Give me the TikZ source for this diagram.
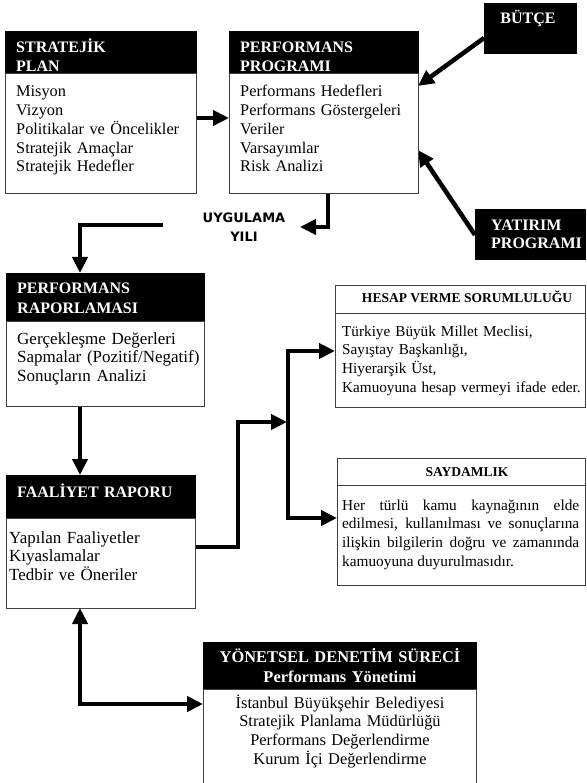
\documentclass[tikz,border=0pt]{standalone}
\usepackage{fontspec}
\setmainfont{Liberation Serif}
\newfontfamily\uygfont{DejaVu Sans}
\usetikzlibrary{arrows.meta}
\pgfdeclarelayer{nodelayer}
\pgfdeclarelayer{edgelayer}
\pgfsetlayers{edgelayer,nodelayer,main}
\tikzstyle{black box}=[fill=black, draw=black, shape=rectangle, anchor=north west, inner sep=0pt, outer sep=0pt]
\tikzstyle{white box}=[fill=white, draw=black!75, line width=0.9pt, shape=rectangle, anchor=north west, inner sep=0pt, outer sep=0pt]
\tikzstyle{head text}=[text=white, font=\bfseries\fontsize{16}{19}\selectfont, anchor=base west, inner sep=0pt, align=left, text width=250pt]
\tikzstyle{list text}=[text=black, font=\fontsize{16.3}{18.75}\selectfont, anchor=base west, inner sep=0pt, align=left, text width=250pt]
\tikzstyle{small head}=[text=black, font=\bfseries\fontsize{13.5}{16}\selectfont, anchor=base, inner sep=0pt]
\tikzstyle{none}=[fill=none, draw=none, shape=coordinate]
\tikzstyle{thick arrow}=[draw=black, line width=4.5pt, -{Triangle[length=16pt, width=15pt]}]
\tikzstyle{double arrow}=[draw=black, line width=4.5pt, {Triangle[length=16pt, width=15pt]}-{Triangle[length=16pt, width=15pt]}]

\begin{document}
\begin{tikzpicture}[x=1pt, y=-1pt]
	\useasboundingbox (0, 0) rectangle (586, 783);
	\begin{pgfonlayer}{nodelayer}
		% stratejik plan
		\node [style=black box, minimum width=191pt, minimum height=42pt] (0) at (5, 31) {};
		\node [style=white box, minimum width=191pt, minimum height=120pt] (1) at (5, 73) {};
		\node [style=head text] (2) at (16, 53) {STRATEJİK\\PLAN};
		\node [style=list text] (3) at (16, 97) {Misyon\\Vizyon\\Politikalar ve Öncelikler\\Stratejik Amaçlar\\Stratejik Hedefler};
		% performans programi
		\node [style=black box, minimum width=189pt, minimum height=42pt] (4) at (229, 31) {};
		\node [style=white box, minimum width=189pt, minimum height=120pt] (5) at (229, 73) {};
		\node [style=head text] (6) at (240, 53) {PERFORMANS\\PROGRAMI};
		\node [style=list text] (7) at (240, 97) {Performans Hedefleri\\Performans Göstergeleri\\Veriler\\Varsayımlar\\Risk Analizi};
		% butce, yatirim
		\node [style=black box, minimum width=92pt, minimum height=50pt] (8) at (484, 3) {};
		\node [style=head text, anchor=base, text width=80pt, align=center] (9) at (528, 23.5) {BÜTÇE};
		\node [style=black box, minimum width=110pt, minimum height=50pt] (10) at (475, 209) {};
		\node [style=head text, font=\bfseries\fontsize{16}{18}\selectfont] (11) at (491, 230.5) {YATIRIM\\PROGRAMI};
		\node [style=head text, text=black, font=\uygfont\bfseries\fontsize{13}{19}\selectfont, anchor=base, text width=90pt, align=center] (12) at (244, 223) {UYGULAMA\\YILI};
		% performans raporlamasi
		\node [style=black box, minimum width=198pt, minimum height=48pt] (13) at (6, 273) {};
		\node [style=white box, minimum width=198pt, minimum height=85pt] (14) at (6, 321) {};
		\node [style=head text, font=\bfseries\fontsize{16}{20}\selectfont] (15) at (17, 293.5) {PERFORMANS\\RAPORLAMASI};
		\node [style=list text, font=\fontsize{17}{18.6}\selectfont] (16) at (17, 344) {Gerçekleşme Değerleri\\Sapmalar (Pozitif/Negatif)\\Sonuçların Analizi};
		% faaliyet raporu
		\node [style=black box, minimum width=189pt, minimum height=43pt] (17) at (6, 475) {};
		\node [style=white box, minimum width=189pt, minimum height=90pt] (18) at (6, 518) {};
		\node [style=head text] (19) at (17, 497) {FAALİYET RAPORU};
		\node [style=list text, font=\fontsize{17}{18.6}\selectfont] (20) at (9, 543) {Yapılan Faaliyetler\\Kıyaslamalar\\Tedbir ve Öneriler};
		% hesap verme
		\node [style=white box, minimum width=250pt, minimum height=28pt] (21) at (335, 285) {};
		\node [style=white box, minimum width=250pt, minimum height=94pt] (22) at (335, 313) {};
		\node [style=small head] (23) at (467, 302) {HESAP VERME SORUMLULUĞU};
		\node [style=list text, font=\fontsize{15.2}{18.7}\selectfont] (24) at (342, 336) {Türkiye Büyük Millet Meclisi,\\Sayıştay Başkanlığı,\\Hiyerarşik Üst,\\Kamuoyuna hesap vermeyi ifade eder.};
		% saydamlik
		\node [style=white box, minimum width=248pt, minimum height=27pt] (25) at (337, 458) {};
		\node [style=white box, minimum width=248pt, minimum height=100pt] (26) at (337, 485) {};
		\node [style=small head] (27) at (467, 476.5) {SAYDAMLIK};
		\node [style=list text, font=\fontsize{15.3}{18.7}\selectfont, text width=237pt, align=justify] (28) at (342, 510) {Her türlü kamu kaynağının elde\linebreak edilmesi, kullanılması ve sonuçlarına\linebreak ilişkin bilgilerin doğru ve zamanında\linebreak kamuoyuna duyurulmasıdır.};
		% yonetsel denetim
		\node [style=black box, minimum width=273pt, minimum height=47pt] (29) at (203, 642) {};
		\node [style=white box, minimum width=273pt, minimum height=100pt] (30) at (203, 689) {};
		\node [style=head text, font=\bfseries\fontsize{16.4}{20}\selectfont, anchor=base, text width=273pt, align=center] (31) at (340, 662) {YÖNETSEL DENETİM SÜRECİ\\Performans Yönetimi};
		\node [style=list text, font=\fontsize{16.4}{18.7}\selectfont, anchor=base, text width=273pt, align=center] (32) at (340, 708) {İstanbul Büyükşehir Belediyesi\\Stratejik Planlama Müdürlüğü\\Performans Değerlendirme\\Kurum İçi Değerlendirme};
		% connector ends
		\node [style=none] (33) at (196, 118) {};
		\node [style=none] (34) at (229, 118) {};
		\node [style=none] (35) at (484, 38) {};
		\node [style=none] (36) at (418, 86) {};
		\node [style=none] (37) at (475, 235) {};
		\node [style=none] (38) at (418, 150) {};
		\node [style=none] (39) at (328, 193) {};
		\node [style=none] (40) at (328, 227) {};
		\node [style=none] (41) at (300, 227) {};
		\node [style=none] (42) at (163, 225) {};
		\node [style=none] (43) at (80, 225) {};
		\node [style=none] (44) at (80, 273) {};
		\node [style=none] (45) at (80, 406) {};
		\node [style=none] (46) at (80, 475) {};
		\node [style=none] (47) at (195, 547) {};
		\node [style=none] (48) at (238, 547) {};
		\node [style=none] (49) at (238, 422) {};
		\node [style=none] (50) at (287, 422) {};
		\node [style=none] (51) at (335, 351) {};
		\node [style=none] (52) at (288, 351) {};
		\node [style=none] (53) at (288, 518) {};
		\node [style=none] (54) at (337, 518) {};
		\node [style=none] (55) at (80, 608) {};
		\node [style=none] (56) at (80, 704) {};
		\node [style=none] (57) at (203, 704) {};
	\end{pgfonlayer}
	\begin{pgfonlayer}{edgelayer}
		\draw [style=thick arrow] (33) to (34);
		\draw [style=thick arrow] (35) to (36);
		\draw [style=thick arrow] (37) to (38);
		\draw [style=thick arrow] (39) to (40) to (41);
		\draw [style=thick arrow] (42) to (43) to (44);
		\draw [style=thick arrow] (45) to (46);
		\draw [style=thick arrow] (47) to (48) to (49) to (50);
		\draw [style=double arrow] (51) to (52) to (53) to (54);
		\draw [style=double arrow] (55) to (56) to (57);
	\end{pgfonlayer}
\end{tikzpicture}
\end{document}
